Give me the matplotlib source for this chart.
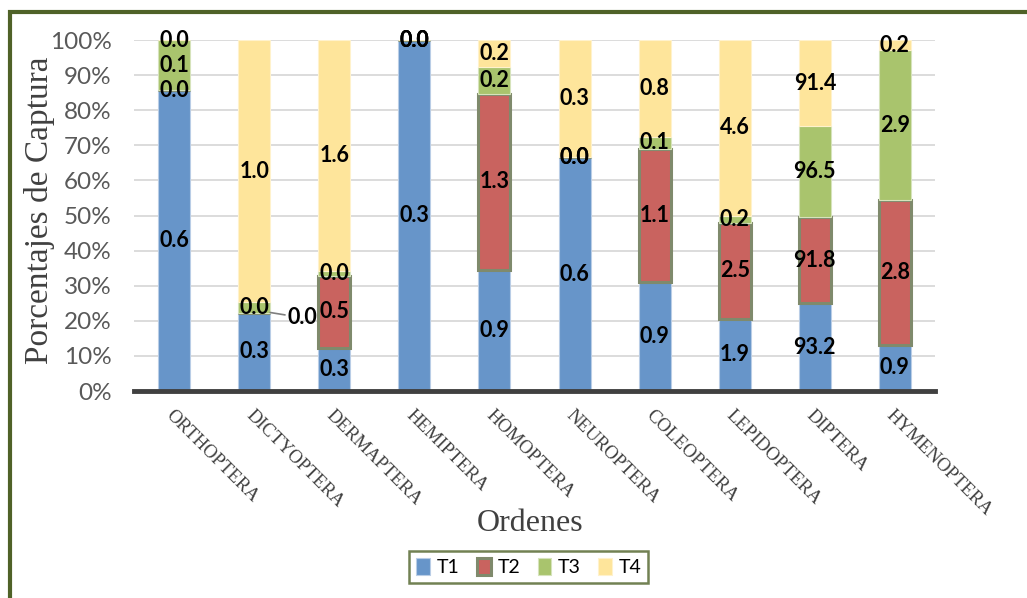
import matplotlib.pyplot as plt
import numpy as np
from matplotlib.patches import Rectangle

# captures per order and treatment
ordenes = ["ORTHOPTERA", "DICTYOPTERA", "DERMAPTERA", "HEMIPTERA", "HOMOPTERA",
           "NEUROPTERA", "COLEOPTERA", "LEPIDOPTERA", "DIPTERA", "HYMENOPTERA"]
t1 = [0.6, 0.3, 0.3, 0.3, 0.9, 0.6, 0.9, 1.9, 93.2, 0.9]
t2 = [0.0, 0.0, 0.5, 0.0, 1.3, 0.0, 1.1, 2.5, 91.8, 2.8]
t3 = [0.1, 0.04, 0.03, 0.0, 0.2, 0.0, 0.1, 0.2, 96.5, 2.9]
t4 = [0.0, 1.0, 1.6, 0.0, 0.2, 0.3, 0.8, 4.6, 91.4, 0.2]
series = ["T1", "T2", "T3", "T4"]

colors = ["#6795c9", "#c9635f", "#a9c46d", "#fee59b"]
edges = ["#b9cde6", "#7f8a6c", "#d6e3bb", "#fff2cc"]
edge_w = [0.8, 2.2, 0.8, 0.8]

values = np.array([t1, t2, t3, t4])
pct = values / values.sum(axis=0) * 100
x = np.arange(len(ordenes))

fig = plt.figure(figsize=(10.27, 5.98), dpi=100)
ax = fig.add_axes([0.1305, 0.346, 0.7799, 0.587])

bottom = np.zeros(len(ordenes))
for i, name in enumerate(series):
    ax.bar(x, pct[i], 0.4, bottom=bottom, color=colors[i], edgecolor=edges[i],
           linewidth=edge_w[i], label=name, zorder=3)
    for j in range(len(ordenes)):
        yc = bottom[j] + pct[i][j] / 2
        txt = f"{values[i][j]:.1f}"
        if ordenes[j] == "DICTYOPTERA" and name == "T2":
            ax.annotate(txt, xy=(j + 0.2, yc), xytext=(j + 0.42, yc - 1.5),
                        ha="left", va="center", fontsize=15.5, fontweight="bold",
                        family="Lato", color="black", zorder=5,
                        arrowprops=dict(arrowstyle="-", color="#7f7f7f", lw=1.2,
                                        shrinkA=0, shrinkB=0))
            continue
        ax.text(j, yc, txt, ha="center", va="center", fontsize=15.5,
                fontweight="bold", family="Lato", color="black", zorder=5)
    bottom += pct[i]

ax.set_xlim(-0.5, len(ordenes) - 0.5)
ax.set_ylim(0, 100)
ax.set_yticks(np.arange(0, 101, 10))
ax.set_yticklabels([f"{v}%" for v in range(0, 101, 10)], family="Lato",
                   fontsize=17.5, color="#595959")
ax.tick_params(axis="y", length=0, pad=16)
ax.set_xticks(x)
ax.set_xticklabels(ordenes, rotation=-45, ha="left", va="top",
                   rotation_mode="anchor", family="Liberation Serif",
                   fontsize=13.5, color="#404040")
ax.tick_params(axis="x", length=0, pad=11)
ax.grid(axis="y", color="#d9d9d9", linewidth=1.3, zorder=0)
for s in ["top", "right", "left"]:
    ax.spines[s].set_visible(False)
ax.spines["bottom"].set_color("#404040")
ax.spines["bottom"].set_linewidth(3.5)
ax.spines["bottom"].set_zorder(4)

fig.text(40 / 1027, 0.648, "Porcentajes de Captura", rotation=90, ha="center",
         va="center", family="Liberation Serif", fontsize=24, color="#404040")
fig.text(0.516, 0.125, "Ordenes", ha="center", va="center",
         family="Liberation Serif", fontsize=23, color="#404040")

leg = fig.legend(loc="center", bbox_to_anchor=(0.515, 0.052), ncol=4,
                 prop={"family": "Lato", "size": 14}, handlelength=0.7,
                 handleheight=1.0, handletextpad=0.35, columnspacing=0.9,
                 borderpad=0.35, fancybox=False)
leg.get_frame().set_edgecolor("#4f6228")
leg.get_frame().set_linewidth(1.8)

# outer frame
fig.patches.append(Rectangle((10 / 1027, -0.2), 1.2, 1.2 - 12 / 598, fill=False,
                             edgecolor="#4f6228", linewidth=3,
                             transform=fig.transFigure, figure=fig))

fig.savefig("out.png", dpi=100)
